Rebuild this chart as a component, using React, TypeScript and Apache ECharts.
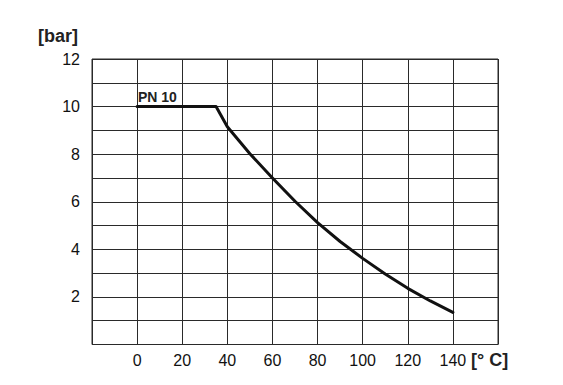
import React, { useEffect, useRef } from "react";
import * as echarts from "echarts";

const temperatures = [0, 35, 40, 50, 60, 70, 80, 90, 100, 110, 120, 130, 140];
const pressures = [10, 10, 9.15, 8.02, 7.0, 6.02, 5.12, 4.33, 3.62, 2.96, 2.36, 1.83, 1.35];
const xTickLabels = ["0", "20", "40", "60", "80", "100", "120", "140"];
const yTickLabels = ["2", "4", "6", "8", "10", "12"];
const seriesName = "PN 10";
const yUnit = "[bar]";
const xUnit = "[° C]";

const FONT = "'Liberation Sans', Arial, Helvetica, sans-serif";

export default function App() {
  const ref = useRef<HTMLDivElement>(null);
  useEffect(() => {
    if (!ref.current) return;
    const chart = echarts.init(ref.current, undefined, { renderer: "svg" });
    const data = temperatures.map((t, i) => [t, pressures[i]]);
    chart.setOption({
      animation: false,
      backgroundColor: "#ffffff",
      grid: {
        left: 92,
        right: 65,
        top: 59,
        bottom: 40.5,
        show: true,
        borderColor: "#2a2a2a",
        borderWidth: 1,
      },
      xAxis: {
        type: "value",
        min: -20,
        max: 160,
        interval: 20,
        axisLine: { show: false },
        axisTick: { show: false },
        splitLine: { show: true, lineStyle: { color: "#2a2a2a", width: 1 } },
        axisLabel: {
          margin: 8,
          color: "#111",
          fontSize: 16,
          fontFamily: FONT,
          formatter: (v: number) => (xTickLabels.includes(String(v)) ? String(v) : ""),
        },
      },
      yAxis: {
        type: "value",
        min: 0,
        max: 12,
        interval: 1,
        axisLine: { show: false },
        axisTick: { show: false },
        splitLine: { show: true, lineStyle: { color: "#2a2a2a", width: 1 } },
        axisLabel: {
          margin: 12,
          color: "#111",
          fontSize: 16,
          fontFamily: FONT,
          formatter: (v: number) => (yTickLabels.includes(String(v)) ? String(v) : ""),
        },
      },
      series: [
        {
          name: seriesName,
          type: "line",
          data,
          showSymbol: false,
          smooth: false,
          lineStyle: { color: "#111", width: 3, cap: "round", join: "round" },
        },
      ],
      graphic: [
        {
          type: "text",
          left: 38,
          top: 27,
          style: { text: yUnit, font: `bold 18px ${FONT}`, fill: "#222" },
        },
        {
          type: "text",
          left: 471,
          top: 351,
          style: { text: xUnit, font: `bold 18px ${FONT}`, fill: "#222" },
        },
        {
          type: "text",
          left: 138,
          top: 90,
          style: { text: seriesName, font: `bold 14px ${FONT}`, fill: "#222" },
        },
      ],
    });
    return () => chart.dispose();
  }, []);
  return (
    <div
      ref={ref}
      style={{ position: "fixed", left: 0, top: 0, width: 563, height: 385 }}
    />
  );
}
